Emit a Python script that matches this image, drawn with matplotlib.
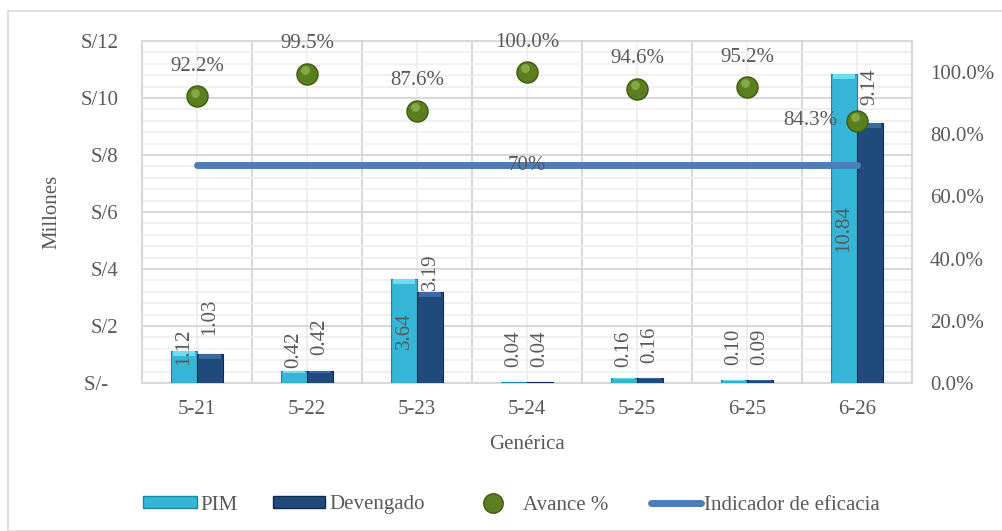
import numpy as np
import matplotlib.pyplot as plt
from matplotlib.patches import Patch, Rectangle
from matplotlib.lines import Line2D
from matplotlib.ticker import MultipleLocator, FuncFormatter

plt.rcParams['font.family'] = ['Liberation Serif', 'DejaVu Serif']

genericas = ["5-21", "5-22", "5-23", "5-24", "5-25", "6-25", "6-26"]
pim = [1.12, 0.42, 3.64, 0.04, 0.16, 0.10, 10.84]
devengado = [1.03, 0.42, 3.19, 0.04, 0.16, 0.09, 9.14]
avance = [0.922, 0.995, 0.876, 1.000, 0.946, 0.952, 0.843]
indicador = [0.70] * len(genericas)

# label offsets in pixels above the bar top (None = centered in the bar)
pim_off = [-14, 3, None, 15, 11, 15, None]
dev_off = [19, 16, 2, 15, 15, 15, 18]

gris = '#595959'
c_pim = '#35B6D6'
c_dev = '#1F4B7C'
c_av = '#5B7F1F'
c_ind = '#4A7EBB'
fs = 15

fig = plt.figure(figsize=(10.03, 5.31), dpi=100)
fig.patches.append(Rectangle((8 / 1003, 0), 1.2, 1 - 11 / 531, transform=fig.transFigure,
                             fill=False, edgecolor='#D9D9D9', lw=1.2))
ax = fig.add_axes([142 / 1003, 1 - 383 / 531, 770 / 1003, 342 / 531])
ax2 = ax.twinx()

x = np.arange(len(genericas))
w = 0.236
ax.bar(x - w / 2, pim, w, color=c_pim, edgecolor='#1C86A3', lw=0.8, zorder=3)
ax.bar(x + w / 2, devengado, w, color=c_dev, edgecolor='#0F2A4A', lw=0.8, zorder=3)
# light top bevel
ax.bar(x - w / 2, [min(0.18, v * 0.2) for v in pim], w * 0.86, bottom=[v - min(0.18, v * 0.2) for v in pim],
       color='#6FDCF2', lw=0, zorder=4)
ax.bar(x + w / 2, [min(0.18, v * 0.2) for v in devengado], w * 0.86,
       bottom=[v - min(0.18, v * 0.2) for v in devengado], color='#3A6AA5', lw=0, zorder=4)

for xi, v, off in zip(x - w / 2, pim, pim_off):
    if off is None:
        ax.text(xi, v / 2, f"{v:.2f}", rotation=90, ha='center', va='center', fontsize=fs, color=gris, zorder=6)
    else:
        ax.annotate(f"{v:.2f}", (xi, v), xytext=(0, off), textcoords='offset pixels', rotation=90,
                    ha='center', va='bottom', fontsize=fs, color=gris, zorder=6)
for xi, v, off in zip(x + w / 2, devengado, dev_off):
    ax.annotate(f"{v:.2f}", (xi, v), xytext=(0, off), textcoords='offset pixels', rotation=90,
                ha='center', va='bottom', fontsize=fs, color=gris, zorder=6)

ax.set_xlim(-0.5, len(genericas) - 0.5)
ax.set_ylim(0, 12)
ax.yaxis.set_major_locator(MultipleLocator(2))
ax.yaxis.set_minor_locator(MultipleLocator(0.4))
ax.set_xticks(x)
ax.set_xticklabels(genericas)
ax.set_xticks(np.arange(len(genericas) + 1) - 0.5, minor=True)
ax.yaxis.set_major_formatter(FuncFormatter(lambda v, p: "S/-  " if v == 0 else f"S/{v:.0f}"))
ax.grid(axis='y', which='major', color='#D9D9D9', lw=1.5, zorder=0)
ax.grid(axis='y', which='minor', color='#EEEEEE', lw=1.2, zorder=0)
ax.grid(axis='x', which='minor', color='#D9D9D9', lw=1.5, zorder=0)
ax.grid(axis='x', which='major', color='#EEEEEE', lw=1.2, zorder=0)
ax.set_axisbelow(True)
ax.tick_params(which='both', length=0, labelsize=fs, colors=gris)
ax.tick_params(axis='y', pad=17)
ax.tick_params(axis='x', pad=12)
for s in ax.spines.values():
    s.set_color('#D9D9D9')
    s.set_linewidth(1.5)
for s in ax2.spines.values():
    s.set_visible(False)

ax.set_ylabel("Millones", fontsize=fs, color=gris, labelpad=14)
ax.set_xlabel("Genérica", fontsize=fs, color=gris, labelpad=12)

ax2.set_ylim(0, 1.1)
ax2.set_yticks(np.arange(0, 1.01, 0.2))
ax2.yaxis.set_major_formatter(FuncFormatter(lambda v, p: f"{v * 100:.1f}%"))
ax2.tick_params(length=0, labelsize=fs, colors=gris, pad=13)

ax2.plot(x, indicador, color=c_ind, lw=5, solid_capstyle='round', zorder=3)
ax2.text(x[3], indicador[3], "70%", ha='center', va='center', fontsize=fs, color=gris, zorder=6)
ax2.scatter(x, avance, s=230, color=c_av, edgecolor='#3F5A12', lw=1, zorder=5)
ax2.scatter(x - 0.02, [a + 0.012 for a in avance], s=40, color='#86A844', lw=0, zorder=5)
for i, (xi, a) in enumerate(zip(x, avance)):
    if i == len(x) - 1:
        ax2.annotate(f"{a * 100:.1f}%", (xi, a), xytext=(-20, 0), textcoords='offset pixels',
                     ha='right', va='center', fontsize=fs, color=gris)
    else:
        ax2.annotate(f"{a * 100:.1f}%", (xi, a), xytext=(0, 30), textcoords='offset pixels',
                     ha='center', va='center', fontsize=fs, color=gris)

# legend, one entry at a time to match the spacing
items = [
    (Patch(facecolor=c_pim, edgecolor='#1C86A3'), "PIM", 143, 2.6, 0.15),
    (Patch(facecolor=c_dev, edgecolor='#0F2A4A'), "Devengado", 273, 2.5, 0.2),
    (Line2D([], [], ls='', marker='o', markersize=14, markerfacecolor=c_av, markeredgecolor='#3F5A12'),
     "Avance %", 466, 2.6, 0.15),
    (Line2D([], [], color=c_ind, lw=5, solid_capstyle='round'), "Indicador de eficacia", 651, 2.4, 0.15),
]
for h, lab, xpix, hl, tp in items:
    fig.legend([h], [lab], loc='center left', bbox_to_anchor=(xpix / 1003, 1 - 505 / 531),
               frameon=False, fontsize=fs, labelcolor=gris, handlelength=hl, handleheight=0.5,
               handletextpad=tp, borderpad=0, borderaxespad=0)

fig.savefig("out.png", dpi=100)
